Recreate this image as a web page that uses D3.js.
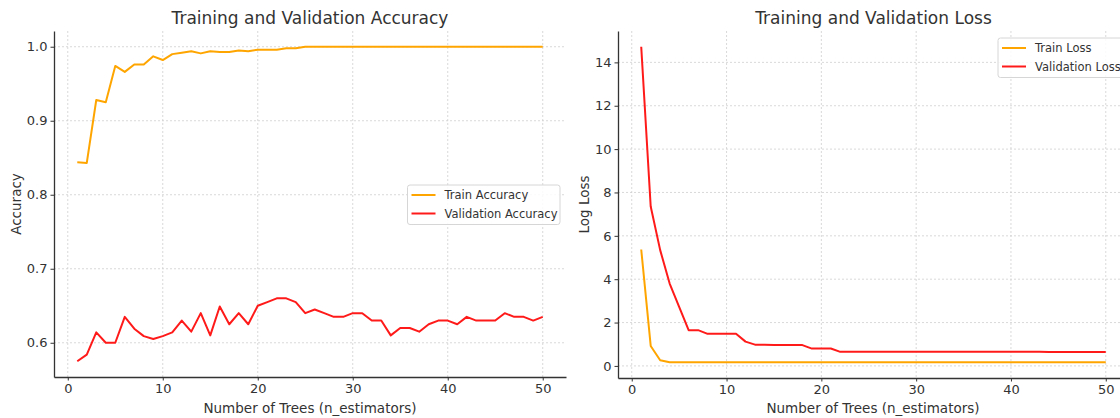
<!DOCTYPE html>
<html><head><meta charset="utf-8">
<script src="https://cdn.jsdelivr.net/npm/d3@7"></script>
<style>
html,body{margin:0;padding:0;background:#fff;}
svg{display:block;font-family:"DejaVu Sans",sans-serif;}
</style></head>
<body><svg id="c" width="1120" height="418"></svg>
<script>
const nTrees = d3.range(1, 51);
const trainAcc = [0.844,0.843,0.928,0.925,0.974,0.966,0.976,0.976,0.987,0.982,
  0.990,0.992,0.994,0.991,0.994,0.993,0.993,0.995,0.994,0.996,
  0.996,0.996,0.998,0.998,1,1,1,1,1,1,
  1,1,1,1,1,1,1,1,1,1,
  1,1,1,1,1,1,1,1,1,1];
const valAcc = [0.575,0.584,0.614,0.600,0.600,0.635,0.619,0.609,0.605,0.609,
  0.614,0.630,0.615,0.640,0.610,0.649,0.625,0.640,0.625,0.650,
  0.655,0.660,0.660,0.655,0.640,0.645,0.640,0.635,0.635,0.640,
  0.640,0.630,0.630,0.610,0.620,0.620,0.615,0.625,0.630,0.630,
  0.625,0.635,0.630,0.630,0.630,0.640,0.635,0.635,0.630,0.635];
const trainLoss = [5.37,0.92,0.26,0.17,0.17,0.17,0.17,0.17,0.17,0.17,
  0.17,0.17,0.17,0.17,0.17,0.17,0.17,0.17,0.17,0.17,
  0.17,0.17,0.17,0.17,0.17,0.17,0.17,0.17,0.17,0.17,
  0.17,0.17,0.17,0.17,0.17,0.17,0.17,0.17,0.17,0.17,
  0.17,0.17,0.17,0.17,0.17,0.17,0.17,0.17,0.17,0.17];
const valLoss = [14.72,7.35,5.34,3.80,2.72,1.65,1.65,1.48,1.48,1.48,
  1.48,1.12,0.98,0.98,0.97,0.97,0.96,0.96,0.80,0.80,
  0.80,0.65,0.65,0.65,0.65,0.65,0.65,0.65,0.65,0.65,
  0.65,0.65,0.65,0.65,0.65,0.65,0.65,0.65,0.65,0.65,
  0.65,0.65,0.65,0.64,0.64,0.64,0.64,0.64,0.64,0.64];
const xTicks = [0,10,20,30,40,50];
const accTicks = [0.6,0.7,0.8,0.9,1.0];
const lossTicks = [0,2,4,6,8,10,12,14];

const svg = d3.select("#c");
const textCol = "#333";

function pad(ext){const r=ext[1]-ext[0];return [ext[0]-0.05*r, ext[1]+0.05*r];}

function panel(o){
  const g = svg.append("g");
  const x = d3.scaleLinear().domain(pad(d3.extent(nTrees))).range([o.left, o.right]);
  const all = o.series.flatMap(s=>s.values);
  const y = d3.scaleLinear().domain(pad(d3.extent(all))).range([o.bottom, o.top]);
  // grid
  g.append("g").selectAll("line").data(xTicks).join("line")
    .attr("x1",d=>x(d)).attr("x2",d=>x(d)).attr("y1",o.top).attr("y2",o.bottom)
    .attr("stroke","#cfcfcf").attr("stroke-width",0.8).attr("stroke-dasharray","2,2");
  g.append("g").selectAll("line").data(o.yTicks).join("line")
    .attr("x1",o.left).attr("x2",o.right).attr("y1",d=>y(d)).attr("y2",d=>y(d))
    .attr("stroke","#cfcfcf").attr("stroke-width",0.8).attr("stroke-dasharray","2,2");
  // axes
  const xa = g.append("g").attr("transform",`translate(0,${o.bottom})`)
    .call(d3.axisBottom(x).tickValues(xTicks).tickSizeInner(3.5).tickSizeOuter(0).tickPadding(3).tickFormat(d3.format("d")));
  const ya = g.append("g").attr("transform",`translate(${o.left},0)`)
    .call(d3.axisLeft(y).tickValues(o.yTicks).tickSizeInner(3.5).tickSizeOuter(0).tickPadding(3).tickFormat(o.fmt));
  [xa,ya].forEach(a=>{
    a.select(".domain").attr("stroke",textCol).attr("stroke-width",1.3);
    a.selectAll(".tick line").attr("stroke",textCol).attr("stroke-width",1);
    a.selectAll(".tick text").attr("fill",textCol).attr("font-size",13).attr("font-family","DejaVu Sans");
  });
  // lines
  const line = d3.line().x((d,i)=>x(nTrees[i])).y(d=>y(d));
  o.series.forEach(s=>{
    g.append("path").datum(s.values).attr("d",line).attr("fill","none")
      .attr("stroke",s.color).attr("stroke-width",2).attr("stroke-linejoin","round");
  });
  // title & labels
  g.append("text").attr("x",(o.left+o.right)/2).attr("y",24).attr("text-anchor","middle")
    .attr("font-size",17).attr("fill",textCol).text(o.title);
  g.append("text").attr("x",o.xlabX).attr("y",413).attr("text-anchor","middle")
    .attr("font-size",13.5).attr("fill",textCol).text("Number of Trees (n_estimators)");
  g.append("text").attr("transform",`translate(${o.ylabX},${(o.top+o.bottom)/2}) rotate(-90)`)
    .attr("text-anchor","middle").attr("font-size",13.5).attr("fill",textCol).text(o.ylabel);
  // legend
  const lg = g.append("g").attr("transform",`translate(${o.legX},${o.legY})`);
  lg.append("rect").attr("x",0).attr("y",0).attr("width",o.legW).attr("height",39.5).attr("rx",2.5)
    .attr("fill","#fff").attr("fill-opacity",0.85).attr("stroke","#d6d6d6").attr("stroke-width",1);
  o.series.forEach((s,i)=>{
    const yy = 10 + i*18.5;
    lg.append("line").attr("x1",4).attr("x2",28).attr("y1",yy).attr("y2",yy)
      .attr("stroke",s.color).attr("stroke-width",2);
    lg.append("text").attr("x",37).attr("y",yy+4).attr("font-size",11.5).attr("fill",textCol).text(s.name);
  });
}

panel({left:54,right:566,top:31,bottom:377,yTicks:accTicks,fmt:d3.format(".1f"),
  title:"Training and Validation Accuracy",ylabel:"Accuracy",xlabX:310,ylabX:21,
  legX:407.5,legY:185,legW:152.5,
  series:[{name:"Train Accuracy",values:trainAcc,color:"orange"},
          {name:"Validation Accuracy",values:valAcc,color:"#ff1a1a"}]});
panel({left:618,right:1129,top:31,bottom:378,yTicks:lossTicks,fmt:d3.format("d"),
  title:"Training and Validation Loss",ylabel:"Log Loss",xlabX:873,ylabX:589,
  legX:998,legY:38,legW:128,
  series:[{name:"Train Loss",values:trainLoss,color:"orange"},
          {name:"Validation Loss",values:valLoss,color:"#ff1a1a"}]});
</script></body></html>
